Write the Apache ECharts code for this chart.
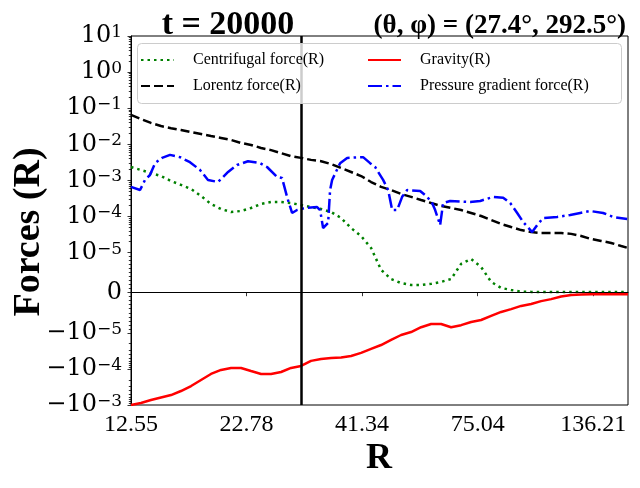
<!DOCTYPE html>
<html><head><meta charset="utf-8">
<script src="https://cdn.jsdelivr.net/npm/echarts@6/dist/echarts.min.js"></script>
<style>html,body{margin:0;padding:0;background:#fff}#c{width:640px;height:488px}</style>
</head><body><div id="c"></div>
<script>
// ---- data ----
const radius = [12.55, 13.21, 13.91, 14.65, 15.43, 16.24, 17.11, 18.01, 18.96, 19.97, 21.03, 22.14, 23.31, 24.55, 25.85, 27.22, 28.66, 30.18, 31.77, 33.46, 35.23, 37.10, 39.06, 41.13, 43.31, 45.60, 48.02, 50.56, 53.24, 56.06, 59.03, 62.15, 65.44, 68.91, 72.56, 76.40, 80.45, 84.71, 89.20, 93.92, 98.90, 104.13, 109.65, 115.46, 121.57, 128.01, 134.79, 141.93, 149.45, 157.36, 163.0];
const centrifugal = [2.35e-3, 1.94e-3, 1.60e-3, 1.32e-3, 9.6e-4, 7.5e-4, 5.8e-4, 3.7e-4, 2.22e-4, 1.61e-4, 1.33e-4, 1.42e-4, 1.72e-4, 2.22e-4, 2.52e-4, 2.52e-4, 2.36e-4, 2.08e-4, 1.83e-4, 1.61e-4, 1.33e-4, 9.1e-5, 4.8e-5, 2.88e-5, 1.34e-5, 5.7e-6, 3.4e-6, 2.4e-6, 1.9e-6, 1.9e-6, 2.2e-6, 2.7e-6, 3.4e-6, 7.2e-6, 8.4e-6, 6.4e-6, 2.7e-6, 1.2e-6, 6.7e-7, 2.5e-7, 2e-7, 1.5e-7, 1.5e-7, 1.5e-7, 1.5e-7, 1.5e-7, 1.5e-7, 1.5e-7, 1.5e-7, 1.5e-7, 1.5e-7];
const lorentz = [6.5e-2, 5.0e-2, 3.9e-2, 3.2e-2, 2.8e-2, 2.5e-2, 2.19e-2, 1.93e-2, 1.70e-2, 1.50e-2, 1.32e-2, 1.09e-2, 9.6e-3, 7.9e-3, 6.9e-3, 5.7e-3, 4.7e-3, 4.2e-3, 3.7e-3, 3.4e-3, 2.84e-3, 2.20e-3, 1.71e-3, 1.32e-3, 9.0e-4, 6.6e-4, 5.4e-4, 4.2e-4, 3.5e-4, 2.86e-4, 2.36e-4, 1.95e-4, 1.72e-4, 1.51e-4, 1.25e-4, 1.03e-4, 8.0e-5, 6.2e-5, 5.1e-5, 4.2e-5, 3.7e-5, 3.5e-5, 3.5e-5, 3.5e-5, 3.3e-5, 2.88e-5, 2.38e-5, 2.10e-5, 1.85e-5, 1.52e-5, 1.34e-5];
const gravity = [-1.0e-3, -8.8e-4, -7.3e-4, -6.2e-4, -5.3e-4, -4.1e-4, -2.98e-4, -2.03e-4, -1.38e-4, -1.07e-4, -9.4e-5, -9.4e-5, -1.14e-4, -1.38e-4, -1.38e-4, -1.22e-4, -9.4e-5, -8.3e-5, -6.0e-5, -5.3e-5, -5.0e-5, -4.8e-5, -4.4e-5, -3.6e-5, -2.8e-5, -2.18e-5, -1.58e-5, -1.15e-5, -9.8e-6, -8.6e-6, -7.8e-6, -7.8e-6, -8.6e-6, -8.1e-6, -7.3e-6, -6.8e-6, -5.8e-6, -4.8e-6, -4.1e-6, -3.3e-6, -2.8e-6, -2.1e-6, -1.6e-6, -9.5e-7, -5.7e-7, -4.5e-7, -4e-7, -4e-7, -4e-7, -4e-7, -4e-7];
const pressureRadius = [12.55, 13.15, 13.49, 13.84, 14.21, 14.73, 15.35, 16.16, 17.01, 17.92, 18.67, 19.66, 20.71, 21.69, 22.95, 24.43, 25.32, 26.66, 27.36, 28.07, 28.81, 29.56, 30.81, 32.78, 33.29, 33.81, 34.70, 35.05, 35.42, 36.91, 38.27, 41.56, 43.09, 44.22, 46.08, 47.30, 48.29, 49.55, 50.83, 52.16, 55.78, 57.83, 59.34, 60.27, 61.84, 62.81, 65.12, 72.20, 76.03, 81.31, 85.60, 88.77, 92.03, 94.93, 99.42, 102.02, 105.23, 113.1, 121.0, 127.4, 134.1, 143.4, 151.0, 162.3];
const pressure = [6.6e-4, 5.4e-4, 1.03e-3, 1.41e-3, 3.0e-3, 4.2e-3, 5.1e-3, 4.4e-3, 3.2e-3, 1.94e-3, 1.03e-3, 9.0e-4, 1.71e-3, 2.67e-3, 3.4e-3, 3.0e-3, 2.35e-3, 1.24e-3, 1.16e-3, 3.5e-4, 1.25e-4, 1.51e-4, 1.72e-4, 1.83e-4, 1.51e-4, 4.8e-5, 6.6e-5, 5.4e-4, 1.03e-3, 3.0e-3, 4.2e-3, 4.4e-3, 3.0e-3, 2.35e-3, 1.03e-3, 5.4e-4, 1.51e-4, 1.51e-4, 3.5e-4, 5.4e-4, 5.1e-4, 3.5e-4, 2.36e-4, 1.51e-4, 5.8e-5, 2.36e-4, 2.69e-4, 2.52e-4, 2.69e-4, 3.5e-4, 3.3e-4, 2.36e-4, 1.25e-4, 7.0e-5, 3.7e-5, 5.8e-5, 9.1e-5, 9.7e-5, 1.10e-4, 1.25e-4, 1.42e-4, 1.25e-4, 9.7e-5, 8.5e-5];
const xTickLabels = [12.55, 22.78, 41.34, 75.04, 136.21];
const xRange = [12.55, 163];
const yTickValues = [10, 1, 0.1, 0.01, 1e-3, 1e-4, 1e-5, 0, -1e-5, -1e-4, -1e-3];
const markerRadius = 30;
const seriesNames = ['Centrifugal force(R)', 'Lorentz force(R)', 'Gravity(R)', 'Pressure gradient force(R)'];

// ---- symlog (linthresh 1e-5, linscale 1) and log10 transforms ----
const LT = 1e-5, LS = 1 / (1 - 0.1);
function sym(v) { const a = Math.abs(v); if (a <= LT) return v / LT * LS; return Math.sign(v) * (LS + Math.log10(a / LT)); }
const lx = r => Math.log10(r);
const FONT = 'Liberation Serif';
const MATH = 'DejaVu Serif';

function yLabel(val) {
  let best = null;
  yTickValues.forEach(t => { if (Math.abs(sym(t) - val) < 1e-6) best = t; });
  if (best === null) return '';
  if (best === 0) return '{b|0}';
  const e = Math.round(Math.log10(Math.abs(best)));
  const sign = best < 0 ? '\u2212' : '';
  return '{b|' + sign + '10}{s|' + (e < 0 ? '\u2212' : '') + Math.abs(e) + '}';
}
function xLabel(val) {
  let best = '';
  xTickLabels.forEach(t => { if (Math.abs(lx(t) - val) < 1e-6) best = t.toFixed(2); });
  return best;
}
// minor ticks
const minor = [];
for (let e = -5; e <= 0; e++) for (let m = 2; m <= 9; m++) minor.push(sym(m * Math.pow(10, e)));
for (let e = -5; e <= -4; e++) for (let m = 2; m <= 9; m++) minor.push(sym(-m * Math.pow(10, e)));
for (let k = 1; k <= 9; k++) { minor.push(sym(k * 1e-6)); minor.push(sym(-k * 1e-6)); }

const pairs = (rs, vs) => rs.map((r, i) => [lx(r), sym(vs[i])]);
const yMin = sym(-1e-3), yMax = sym(10);

const chart = echarts.init(document.getElementById('c'), null, { renderer: 'canvas' });
const legendText = { fontFamily: FONT, fontSize: 16, color: '#000', lineHeight: 16, padding: [0, 0, 0, 14] };
const legendCommon = {
  orient: 'vertical', top: 52, itemWidth: 33, itemHeight: 14, itemGap: 10, padding: 0,
  selectedMode: false, z: 60, textStyle: legendText,
  itemStyle: { color: 'rgba(0,0,0,0)', borderWidth: 0, opacity: 0 }
};
chart.setOption({
  animation: false,
  backgroundColor: '#fff',
  grid: { left: 131, right: 12, top: 36, bottom: 83, show: true, borderColor: '#000', borderWidth: 1, backgroundColor: 'transparent' },
  xAxis: {
    type: 'value', min: lx(xRange[0]), max: lx(xRange[1]),
    axisLine: { show: true, lineStyle: { color: '#000', width: 1 } },
    axisTick: { show: true, length: 3.5, lineStyle: { color: '#000', width: 0.8 }, customValues: xTickLabels.map(lx) },
    axisLabel: { customValues: xTickLabels.map(lx), formatter: xLabel, fontFamily: FONT, fontSize: 24, color: '#000', margin: 8 },
    splitLine: { show: false }
  },
  yAxis: [{
    type: 'value', min: yMin, max: yMax,
    axisLine: { show: true, lineStyle: { color: '#000', width: 1 } },
    axisTick: { show: true, length: 3.5, lineStyle: { color: '#000', width: 0.8 }, customValues: yTickValues.map(sym) },
    axisLabel: {
      customValues: yTickValues.map(sym), formatter: yLabel, margin: 9,
      rich: {
        b: { fontFamily: MATH, fontSize: 24, color: '#000', lineHeight: 24 },
        s: { fontFamily: MATH, fontSize: 17, color: '#000', lineHeight: 6, verticalAlign: 'top' }
      }
    },
    splitLine: { show: false }
  }, {
    type: 'value', min: yMin, max: yMax, position: 'left',
    axisLine: { show: false },
    axisTick: { show: true, length: 2.2, lineStyle: { color: '#000', width: 0.8 }, customValues: minor },
    axisLabel: { show: true, customValues: minor, formatter: () => '' },
    splitLine: { show: false }
  }],
  legend: [
    Object.assign({ data: [seriesNames[0], seriesNames[1]], left: 140 }, legendCommon),
    Object.assign({ data: [seriesNames[2], seriesNames[3]], left: 367 }, legendCommon)
  ],
  graphic: [
    { type: 'rect', left: 137, top: 43, z: 50, silent: true, shape: { width: 484, height: 60, r: 4 }, style: { fill: 'rgba(255,255,255,0.8)', stroke: '#cccccc', lineWidth: 1 } },
    { type: 'text', x: 228, y: 25, z: 50, style: { text: 't = 20000', fontFamily: FONT, fontWeight: 'bold', fontSize: 34, fill: '#000', align: 'center', verticalAlign: 'middle' } },
    { type: 'text', x: 626, y: 26, z: 50, style: { text: '(\u03b8, \u03c6) = (27.4\u00b0, 292.5\u00b0)', fontFamily: FONT, fontWeight: 'bold', fontSize: 27, fill: '#000', align: 'right', verticalAlign: 'middle' } },
    { type: 'text', x: 29, y: 232, rotation: Math.PI / 2, z: 50, style: { text: 'Forces (R)', fontFamily: FONT, fontWeight: 'bold', fontSize: 38, fill: '#000', align: 'center', verticalAlign: 'middle' } },
    { type: 'text', x: 379, y: 459, z: 50, style: { text: 'R', fontFamily: FONT, fontWeight: 'bold', fontSize: 36, fill: '#000', align: 'center', verticalAlign: 'middle' } }
  ],
  series: [
    { name: seriesNames[0], type: 'line', symbol: 'none', showSymbol: false, data: pairs(radius, centrifugal), lineStyle: { color: '#008000', width: 2.5, type: [2.5, 4] }, itemStyle: { color: '#008000' }, emphasis: { disabled: true } },
    { name: seriesNames[1], type: 'line', symbol: 'none', showSymbol: false, data: pairs(radius, lorentz), lineStyle: { color: '#000', width: 2.5, type: [9, 4] }, itemStyle: { color: '#000' }, emphasis: { disabled: true } },
    { name: seriesNames[2], type: 'line', symbol: 'none', showSymbol: false, data: pairs(radius, gravity), lineStyle: { color: '#ff0000', width: 2.5, type: 'solid' }, itemStyle: { color: '#ff0000' }, emphasis: { disabled: true } },
    { name: seriesNames[3], type: 'line', symbol: 'none', showSymbol: false, data: pairs(pressureRadius, pressure), lineStyle: { color: '#0000ff', width: 2.5, type: [14, 4, 2.5, 4] }, itemStyle: { color: '#0000ff' }, emphasis: { disabled: true },
      markLine: { silent: true, symbol: ['none', 'none'], label: { show: false }, animation: false,
        data: [
          { xAxis: lx(markerRadius), lineStyle: { color: '#000', width: 2.5, type: 'solid' } },
          { yAxis: 0, lineStyle: { color: '#000', width: 0.8, type: 'solid' } }
        ] } }
  ]
});
</script>
</body></html>
